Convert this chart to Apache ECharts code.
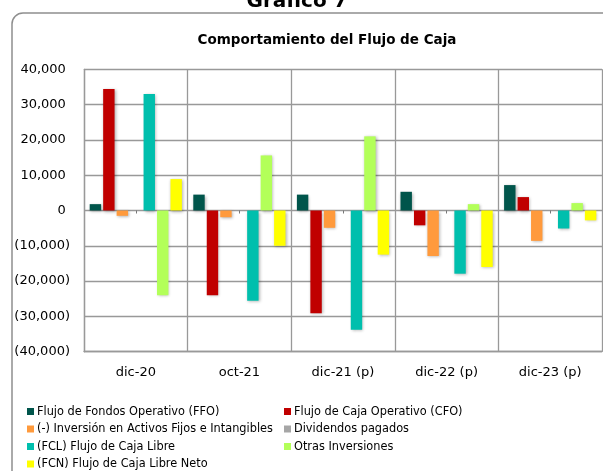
<!DOCTYPE html>
<html>
<head>
<meta charset="utf-8">
<script src="https://cdn.jsdelivr.net/npm/echarts@6/dist/echarts.min.js"></script>
<style>html,body{margin:0;padding:0;background:#fff}#c{width:603px;height:471px}</style>
</head>
<body>
<div id="c"></div>
<script>
var categories = ['dic-20', 'oct-21', 'dic-21 (p)', 'dic-22 (p)', 'dic-23 (p)'];
var ffo = [1800, 4500, 4500, 5300, 7200];
var cfo = [34400, -24000, -29100, -4200, 3800];
var inversion = [-1500, -1900, -4900, -12900, -8600];
var dividendos = [0, 0, 0, 0, 0];
var fcl = [33000, -25600, -33800, -17900, -5100];
var otras = [-24000, 15600, 21000, 1800, 2100];
var fcn = [8900, -10000, -12500, -16000, -2800];
var yTicks = [-40000, -30000, -20000, -10000, 0, 10000, 20000, 30000, 40000];

var names = ['Flujo de Fondos Operativo (FFO)', 'Flujo de Caja Operativo (CFO)',
  '(-) Inversión en Activos Fijos e Intangibles', 'Dividendos pagados',
  '(FCL) Flujo de Caja Libre', 'Otras Inversiones', '(FCN) Flujo de Caja Libre Neto'];
var colors = ['#00554B', '#C00000', '#FF9A3C', '#A6A6A6', '#00BFAD', '#B3FF59', '#FFFF00'];
var values = [ffo, cfo, inversion, dividendos, fcl, otras, fcn];

function fmt(v) {
  var s = Math.abs(v).toString().replace(/\B(?=(\d{3})+(?!\d))/g, ',');
  return v < 0 ? '(' + s + ')' : s + ' ';
}

var series = values.map(function (d, i) {
  return {
    name: names[i], type: 'bar', data: d,
    barGap: '18%', barCategoryGap: '11%',
    itemStyle: { color: colors[i], shadowColor: 'rgba(0,0,0,0.3)', shadowBlur: 3, shadowOffsetX: 1, shadowOffsetY: 1 }
  };
});

var FONT = 'DejaVu Sans';
var legendText = { fontFamily: 'DejaVu Sans Condensed', fontSize: 12.6, color: '#000', lineHeight: 14, padding: [0, 0, 0, -2] };
var chart = echarts.init(document.getElementById('c'), null, { renderer: 'canvas' });
chart.setOption({
  animation: false,
  backgroundColor: '#fff',
  color: colors,
  graphic: [
    { type: 'rect', shape: { x: 12, y: 13, width: 700, height: 520, r: 11 }, style: { fill: 'none', stroke: '#8f8f8f', lineWidth: 1.5 }, z: -1 },
    { type: 'text', x: 297, y: 2, style: { text: 'Gráfico 7', font: 'bold 20px "DejaVu Sans"', fill: '#000', align: 'center', verticalAlign: 'middle' } },
    { type: 'text', x: 327, y: 40, style: { text: 'Comportamiento del Flujo de Caja', font: 'bold 13.5px "DejaVu Sans"', fill: '#000', align: 'center', verticalAlign: 'middle' } }
  ],
  grid: { left: 84, right: 1, top: 69.3, bottom: 119.3, outerBoundsMode: 'none' },
  legend: [
    { data: [names[0], names[2], names[4], names[6]], orient: 'vertical', left: 27, top: 404.5, padding: 0,
      itemWidth: 7, itemHeight: 7, itemGap: 3.5, icon: 'rect',
      itemStyle: { shadowBlur: 0, shadowOffsetX: 0, shadowOffsetY: 0 },
      textStyle: legendText },
    { data: [names[1], names[3], names[5]], orient: 'vertical', left: 284, top: 404.5, padding: 0,
      itemWidth: 7, itemHeight: 7, itemGap: 3.5, icon: 'rect',
      itemStyle: { shadowBlur: 0, shadowOffsetX: 0, shadowOffsetY: 0 },
      textStyle: legendText }
  ],
  xAxis: [
    { type: 'category', data: categories, position: 'bottom',
      axisLine: { onZero: false, show: true, lineStyle: { color: '#999', width: 1.3 } },
      axisTick: { show: false },
      axisLabel: { fontFamily: FONT, fontSize: 13, color: '#000', margin: 14 },
      splitLine: { show: true, lineStyle: { color: '#999', width: 1.3 } } },
    { type: 'category', data: categories, position: 'bottom',
      axisLine: { onZero: true, show: false },
      axisTick: { show: true, alignWithLabel: true, length: 3, lineStyle: { color: '#777', width: 1 } },
      axisLabel: { show: false }, splitLine: { show: false } }
  ],
  yAxis: {
    type: 'value', min: yTicks[0], max: yTicks[yTicks.length - 1], interval: 10000,
    axisLine: { show: true, lineStyle: { color: '#999', width: 1.3 } },
    axisTick: { show: false },
    axisLabel: { fontFamily: FONT, fontSize: 13, color: '#000', margin: 14, formatter: fmt },
    splitLine: { show: true, lineStyle: { color: '#999', width: 1.3 } }
  },
  series: series
});
</script>
</body>
</html>
